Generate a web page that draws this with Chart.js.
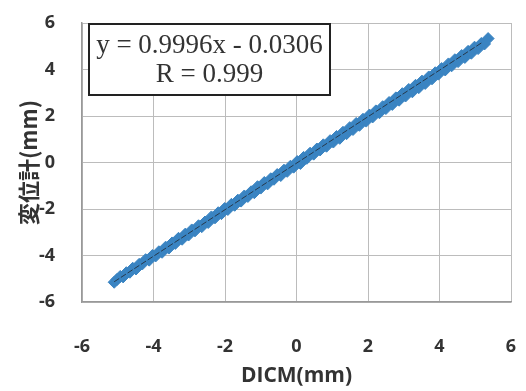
<!DOCTYPE html>
<html>
<head>
<meta charset="utf-8">
<script src="https://cdn.jsdelivr.net/npm/chart.js@4"></script>
<style>
  html, body { margin: 0; padding: 0; background: #fff; }
  #wrap { width: 526px; height: 391px; }
</style>
</head>
<body>
<div id="wrap"><canvas id="chart" width="526" height="391"></canvas></div>
<script>
var dicmX = [-5.10,-5.02,-4.93,-4.85,-4.76,-4.66,-4.58,-4.49,-4.40,-4.31,-4.22,-4.12,-4.03,-3.94,-3.85,-3.76,-3.66,-3.57,-3.48,-3.39,
  -3.30,-3.20,-3.11,-3.02,-2.93,-2.84,-2.74,-2.65,-2.56,-2.47,-2.38,-2.28,-2.19,-2.10,-2.01,-1.92,-1.82,-1.73,-1.64,-1.55,
  -1.46,-1.36,-1.27,-1.18,-1.09,-1.00,-0.90,-0.81,-0.72,-0.63,-0.54,-0.44,-0.35,-0.26,-0.17,-0.08,0.02,0.11,0.20,0.29,
  0.38,0.48,0.57,0.66,0.75,0.84,0.94,1.03,1.12,1.21,1.30,1.40,1.49,1.58,1.67,1.76,1.86,1.95,2.04,2.13,
  2.22,2.32,2.41,2.50,2.59,2.68,2.78,2.87,2.96,3.05,3.14,3.24,3.33,3.42,3.51,3.60,3.70,3.79,3.88,3.97,
  4.06,4.16,4.25,4.34,4.43,4.52,4.62,4.71,4.80,4.89,4.98,5.08,5.17,5.26,5.36];
var gaugeY = [-5.15,-5.03,-4.90,-4.92,-4.74,-4.72,-4.55,-4.58,-4.38,-4.36,-4.18,-4.20,-4.00,-4.02,-3.84,-3.86,-3.64,-3.68,-3.46,-3.48,
  -3.26,-3.30,-3.08,-3.12,-2.90,-2.94,-2.72,-2.76,-2.56,-2.58,-2.34,-2.38,-2.16,-2.20,-1.98,-2.02,-1.80,-1.84,-1.62,-1.66,
  -1.44,-1.46,-1.26,-1.30,-1.04,-1.10,-0.86,-0.92,-0.70,-0.72,-0.52,-0.56,-0.33,-0.38,-0.16,-0.20,0.04,-0.04,0.22,0.18,
  0.40,0.36,0.58,0.54,0.76,0.70,0.94,0.88,1.12,1.04,1.30,1.24,1.50,1.42,1.68,1.60,1.86,1.78,2.04,1.96,
  2.22,2.14,2.40,2.32,2.58,2.50,2.78,2.68,2.96,2.86,3.14,3.04,3.32,3.22,3.50,3.40,3.68,3.60,3.86,3.80,
  4.04,3.98,4.24,4.16,4.42,4.34,4.60,4.52,4.78,4.70,4.96,4.90,5.12,5.10,5.33];

// linear trendline end points
var trendX = [-5.10, 5.17];
var trendY = [-5.13, 5.14];

var eqLines = ["y = 0.9996x - 0.0306", "R = 0.999"];
var xTitle = "DICM(mm)";
var yTitle = "変位計(mm)";

var points = [];
for (var i = 0; i < dicmX.length; i++) {
    points.push({ x: dicmX[i], y: gaugeY[i] });
}
var trend = [];
for (var j = 0; j < trendX.length; j++) {
    trend.push({ x: trendX[j], y: trendY[j] });
}

var tickFont = { family: "'Open Sans', 'Liberation Sans', sans-serif", size: 18, weight: "bold" };
var gridColor = "#bcbcbc";

var eqBox = {
    id: "eqBox",
    afterDatasetsDraw: function(chart) {
        var ctx = chart.ctx;
        var a = chart.chartArea;
        var x0 = a.left + 7, y0 = a.top + 1, w = 241, h = 71;
        ctx.save();
        ctx.fillStyle = "#fff";
        ctx.fillRect(x0, y0, w, h);
        ctx.strokeStyle = "#222";
        ctx.lineWidth = 2;
        ctx.strokeRect(x0, y0, w, h);
        ctx.fillStyle = "#333";
        ctx.font = "27px 'Liberation Serif', 'DejaVu Serif', serif";
        ctx.textAlign = "center";
        ctx.textBaseline = "middle";
        ctx.fillText(eqLines[0], x0 + w / 2, y0 + 22);
        ctx.fillText(eqLines[1], x0 + w / 2, y0 + 51);
        ctx.restore();
    }
};

new Chart(document.getElementById("chart").getContext("2d"), {
    type: "scatter",
    data: {
        datasets: [{
            label: "trend",
            data: trend,
            showLine: true,
            borderColor: "#26384a",
            borderWidth: 1,
            borderDash: [6, 2],
            pointRadius: 0,
            order: 0
        }, {
            label: "data",
            data: points,
            backgroundColor: "#3a84c2",
            borderColor: "#3a84c2",
            pointRadius: 6,
            pointStyle: "rectRot",
            order: 1
        }]
    },
    options: {
        responsive: false,
        animation: false,
        layout: { padding: { left: 15, right: 15, top: 23, bottom: 2 } },
        plugins: { legend: { display: false }, tooltip: { enabled: false } },
        scales: {
            x: {
                min: -6, max: 6,
                afterFit: function(s) { s.height = 87; s.paddingLeft = 0; s.paddingRight = 0; },
                ticks: { stepSize: 2, color: "#333", font: tickFont, padding: 34 },
                grid: { color: gridColor, drawTicks: false },
                border: { color: "#999", width: 1.5 },
                title: { display: true, text: xTitle, color: "#333", padding: 0,
                    font: { family: "'Open Sans', 'Liberation Sans', sans-serif", size: 21, weight: "bold" } }
            },
            y: {
                min: -6, max: 6,
                afterFit: function(s) { s.width = 67; s.paddingTop = 0; s.paddingBottom = 0; },
                ticks: { stepSize: 2, color: "#333", font: tickFont, padding: 27 },
                grid: { color: gridColor, drawTicks: false },
                border: { color: "#999", width: 1.5 },
                title: { display: true, text: yTitle, color: "#333", padding: 0,
                    font: { family: "'Noto Sans CJK JP', 'Open Sans', sans-serif", size: 22, weight: "bold" } }
            }
        }
    },
    plugins: [eqBox]
});
</script>
</body>
</html>
